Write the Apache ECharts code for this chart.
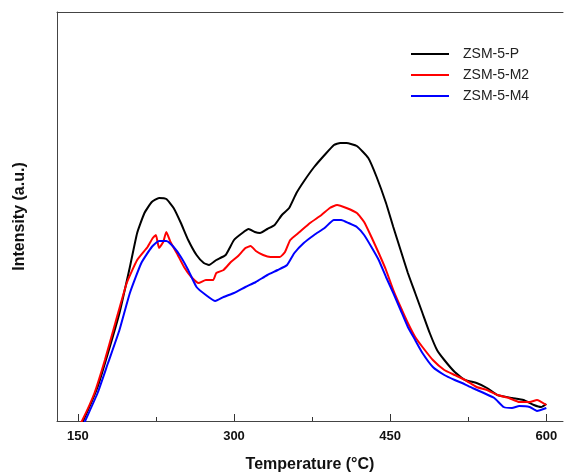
<!DOCTYPE html>
<html>
<head>
<meta charset="utf-8">
<script src="https://cdn.jsdelivr.net/npm/echarts@6/dist/echarts.min.js"></script>
<style>
  html, body { margin: 0; padding: 0; background: #fff; }
  #tpd-chart { width: 565px; height: 474px; }
</style>
</head>
<body>
<div id="tpd-chart"></div>
<script>
// temperature (°C) / intensity (a.u.) pairs
const zsmP = [
  [152, -4], [155, 0], [169, 34], [179, 68], [190, 108], [200, 154], [207, 188], [214, 208],
  [221, 219], [228, 223], [235, 222], [242, 213], [249, 198], [256, 181], [264, 166],
  [271, 158], [276, 156], [283, 161], [292, 166], [300, 181], [308, 188], [314, 192],
  [320, 189], [325, 188], [332, 192], [339, 196], [346, 206], [353, 213], [360, 228],
  [368, 241], [377, 254], [387, 266], [396, 276], [402, 278], [408, 278], [418, 275],
  [429, 263], [437, 244], [446, 218], [453, 194], [460, 171], [467, 148], [474, 128],
  [481, 108], [488, 88], [495, 71], [502, 61], [512, 49], [522, 41], [533, 38], [543, 33],
  [553, 26], [567, 23], [578, 21], [588, 16], [595, 14], [600, 17]
];
const zsmM2 = [
  [151, -4], [154, 0], [166, 28], [176, 61], [186, 98], [197, 138], [207, 161], [217, 174],
  [222, 183], [225, 186], [228, 173], [232, 179], [235, 189], [239, 179], [245, 168],
  [252, 154], [259, 144], [266, 138], [273, 141], [280, 141], [283, 148], [290, 151],
  [297, 159], [304, 165], [311, 173], [316, 175], [321, 170], [328, 166], [335, 164],
  [344, 164], [349, 169], [354, 181], [363, 189], [373, 198], [384, 206], [392, 213],
  [399, 216], [408, 213], [418, 208], [425, 199], [432, 184], [439, 168], [446, 151],
  [453, 131], [460, 114], [467, 98], [474, 84], [481, 74], [491, 61], [502, 51], [512, 46],
  [522, 41], [533, 34], [543, 31], [553, 26], [564, 23], [574, 19], [584, 19], [591, 21],
  [600, 16]
];
const zsmM4 = [
  [155, -5], [157, 0], [169, 28], [179, 58], [190, 91], [200, 128], [211, 158], [221, 174],
  [228, 180], [235, 180], [242, 174], [249, 164], [256, 151], [264, 134], [273, 126],
  [282, 120], [290, 124], [300, 128], [311, 134], [321, 139], [332, 146], [342, 151],
  [351, 156], [358, 168], [367, 178], [377, 186], [387, 193], [396, 201], [403, 201],
  [410, 198], [418, 194], [425, 186], [432, 174], [439, 161], [446, 144], [453, 128],
  [460, 111], [467, 94], [474, 81], [481, 68], [491, 54], [502, 46], [512, 41], [519, 38],
  [529, 33], [540, 28], [550, 23], [559, 14], [567, 13], [574, 15], [584, 14], [591, 10],
  [600, 13]
];
const seriesNames = ['ZSM-5-P', 'ZSM-5-M2', 'ZSM-5-M4'];
const majorTicks = [150, 300, 450, 600];
const minorTicks = [225, 375, 525];

const chart = echarts.init(document.getElementById('tpd-chart'));

const lineColors = ['#000000', '#ff0000', '#0000ff'];
const curves = [zsmP, zsmM2, zsmM4];
const font = 'Liberation Sans, Arial, sans-serif';
const frame = { show: true, lineStyle: { color: '#444', width: 1 } };

let series = seriesNames.map((name, i) => {
  return {
    name: name,
    type: 'line',
    data: curves[i],
    symbol: 'none',
    smooth: 0.15,
    clip: true,
    lineStyle: { color: lineColors[i], width: 2 },
    itemStyle: { color: lineColors[i] }
  };
});

const option = {
  animation: false,
  backgroundColor: '#ffffff',
  // no right border: the frame runs off the picture
  grid: { left: 57, right: 2, top: 12, bottom: 53, outerBoundsMode: 'none' },
  legend: {
    data: seriesNames,
    orient: 'vertical',
    left: 406, top: 42,
    icon: 'rect',
    itemWidth: 38, itemHeight: 2, itemGap: 7,
    textStyle: { fontFamily: font, fontSize: 14, color: '#222', padding: [0, 0, 0, 9] }
  },
  xAxis: [
    {
      type: 'value', min: 130, max: 616,
      name: 'Temperature (°C)', nameLocation: 'middle', nameGap: 36,
      nameTextStyle: { fontFamily: font, fontSize: 16, fontWeight: 'bold', color: '#111' },
      axisLine: frame,
      axisTick: { show: true, inside: true, length: 7, customValues: majorTicks, lineStyle: { color: '#333' } },
      axisLabel: { customValues: majorTicks, margin: 9, fontFamily: font, fontSize: 13, fontWeight: 'bold', color: '#111' },
      splitLine: { show: false }
    },
    {
      type: 'value', min: 130, max: 616, position: 'bottom',
      axisLine: { show: false },
      axisTick: { show: true, inside: true, length: 4, customValues: minorTicks, lineStyle: { color: '#333' } },
      axisLabel: { show: false },
      splitLine: { show: false }
    },
    {
      type: 'value', min: 130, max: 616, position: 'top',
      axisLine: frame, axisTick: { show: false }, axisLabel: { show: false },
      splitLine: { show: false }
    }
  ],
  yAxis: {
    type: 'value', min: 0, max: 409,
    name: 'Intensity (a.u.)', nameLocation: 'middle', nameGap: 29,
    nameTextStyle: { fontFamily: font, fontSize: 16, fontWeight: 'bold', color: '#111' },
    axisLine: frame, axisTick: { show: false }, axisLabel: { show: false },
    splitLine: { show: false }
  },
  series: series
};

chart.setOption(option);
</script>
</body>
</html>
